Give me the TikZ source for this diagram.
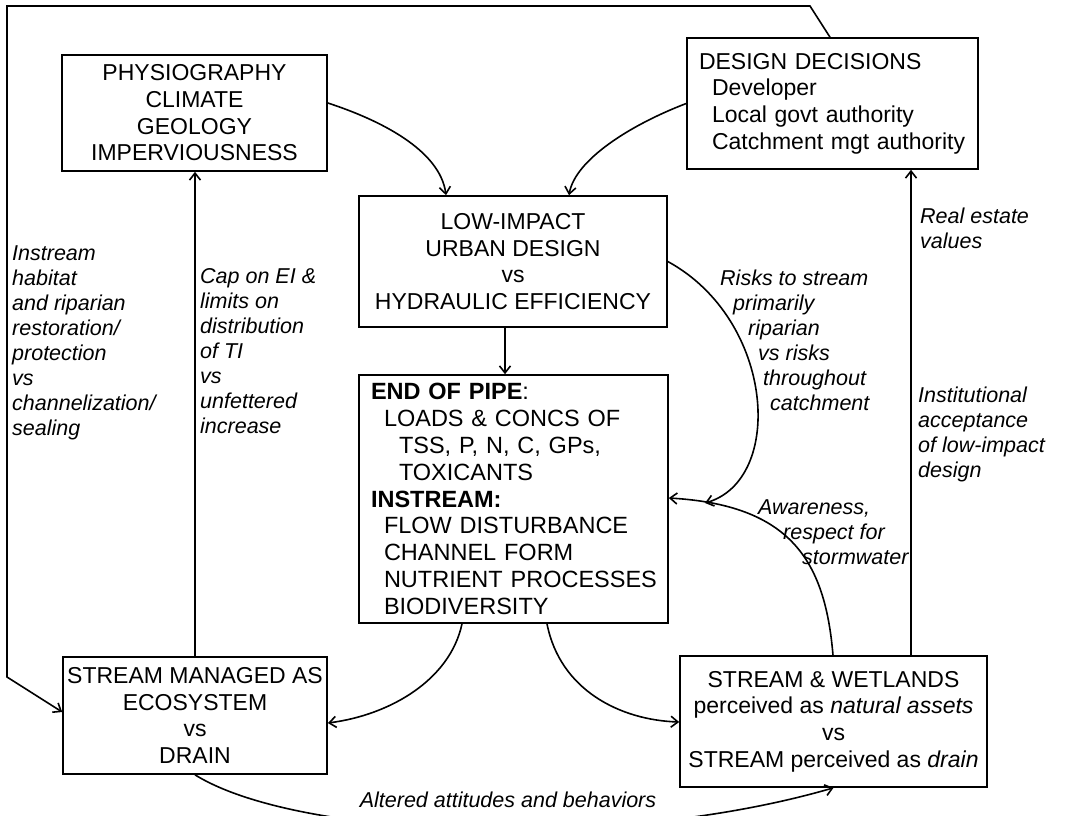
\documentclass[tikz,border=0pt]{standalone}
\usepackage{fontspec}
\setmainfont{Liberation Sans}
\usetikzlibrary{arrows.meta,calc}
\begin{document}
\begin{tikzpicture}[x=1pt,y=-1pt,
  box/.style={draw,line width=1.6pt,inner sep=0pt,align=center,font=\fontsize{23}{26.7}\selectfont},
  lbl/.style={inner sep=0pt,align=left,font=\fontsize{21.5}{25}\selectfont\itshape},
  arr/.style={line width=1.6pt,-{Straight Barb[length=7pt,width=11pt,line width=1.6pt]}}]
\useasboundingbox (0,0) rectangle (1071,815);
% boxes
\node[box,minimum width=265pt,minimum height=116pt] (phys) at (194.5,113) {PHYSIOGRAPHY\\CLIMATE\\GEOLOGY\\IMPERVIOUSNESS};
\node[box,minimum height=131pt,text width=267pt,inner xsep=12pt,align=left] (design) at (832.5,103.5) {DESIGN DECISIONS\\\hspace*{13pt}Developer\\\hspace*{13pt}Local govt authority\\\hspace*{13pt}Catchment mgt authority};
\node[box,minimum width=308pt,minimum height=131pt] (low) at (513,261.5) {LOW-IMPACT\\URBAN DESIGN\\vs\\HYDRAULIC EFFICIENCY};
\node[box,minimum height=248pt,text width=289pt,inner xsep=10pt,align=left,font=\fontsize{23.5}{26.8}\selectfont] (endp) at (513.5,499) {\hspace*{2pt}\textbf{END OF PIPE}:\\\hspace*{15pt}LOADS \& CONCS OF\\\hspace*{30pt}TSS, P, N, C, GPs,\\\hspace*{30pt}TOXICANTS\\\hspace*{2pt}\textbf{INSTREAM:}\\\hspace*{15pt}FLOW DISTURBANCE\\\hspace*{15pt}CHANNEL FORM\\\hspace*{15pt}NUTRIENT PROCESSES\\\hspace*{15pt}BIODIVERSITY};
\node[box,minimum width=264pt,minimum height=117pt] (sm) at (195,715.5) {STREAM MANAGED AS\\ECOSYSTEM\\vs\\DRAIN};
\node[box,minimum width=307pt,minimum height=131pt] (sw) at (833.5,721.5) {STREAM \& WETLANDS\\perceived as \textit{natural assets}\\vs\\STREAM perceived as \textit{drain}};
% labels
\node[lbl,anchor=west] (l1) at (12,342.5) {Instream\\habitat\\and riparian\\restoration/\\protection\\vs\\channelization/\\sealing};
\node[lbl,anchor=west] (l2) at (200,351) {Cap on EI \&\\limits on\\distribution\\of TI\\vs\\unfettered\\increase};
\node[lbl,anchor=west] (l3) at (920,228) {Real estate\\values};
\node[lbl,anchor=west] (l4) at (720,340.5) {Risks to stream\\\hspace*{13pt}primarily\\\hspace*{28pt}riparian\\\hspace*{38pt}vs risks\\\hspace*{43pt}throughout\\\hspace*{50pt}catchment};
\node[lbl,anchor=west] (l5) at (918,434.5) {Institutional\\acceptance\\of low-impact\\design};
\node[lbl,anchor=west] (l6) at (758,532) {Awareness,\\\hspace*{25pt}respect for\\\hspace*{44pt}stormwater};
\node[lbl] (l7) at (508,800) {Altered attitudes and behaviors};
% connectors
\draw[arr] ([yshift=10pt]phys.east) .. controls (380,120) and (440,150) .. ([xshift=-67pt]low.north);
\draw[arr] (design.west) .. controls (630,125) and (575,160) .. ([xshift=56pt]low.north);
\draw[arr] ([xshift=-8pt]low.south) -- ([xshift=-8pt]low.south |- endp.north);
\coordinate (rk) at (705,503);
\draw[arr] (low.east) .. controls (775,320) and (785,480) .. (rk);
\draw[arr] ([xshift=-0.5pt]sw.north) .. controls (825,560) and (790,505) .. ([yshift=1pt]endp.east);
\draw[arr] (sm.north) -- (sm.north |- phys.south);
\draw[arr] ([xshift=77.5pt]sw.north) -- ([xshift=77.5pt]sw.north |- design.south);
\draw[arr] ([xshift=-51.5pt]endp.south) .. controls (450,680) and (390,715) .. ([yshift=-7.5pt]sm.east);
\draw[arr] ([xshift=33.5pt]endp.south) .. controls (560,690) and (620,720) .. ([yshift=-0.5pt]sw.west);
\draw[arr] (sm.south) .. controls (300,840) and (620,850) .. (sw.south);
\coordinate (c1) at (810,6);
\coordinate (c2) at (7,6);
\coordinate (c3) at (7,677);
\draw[arr] ([xshift=-2.5pt]design.north) -- (c1) -- (c2) -- (c3) -- ([yshift=3.5pt]sm.west);
\end{tikzpicture}
\end{document}
